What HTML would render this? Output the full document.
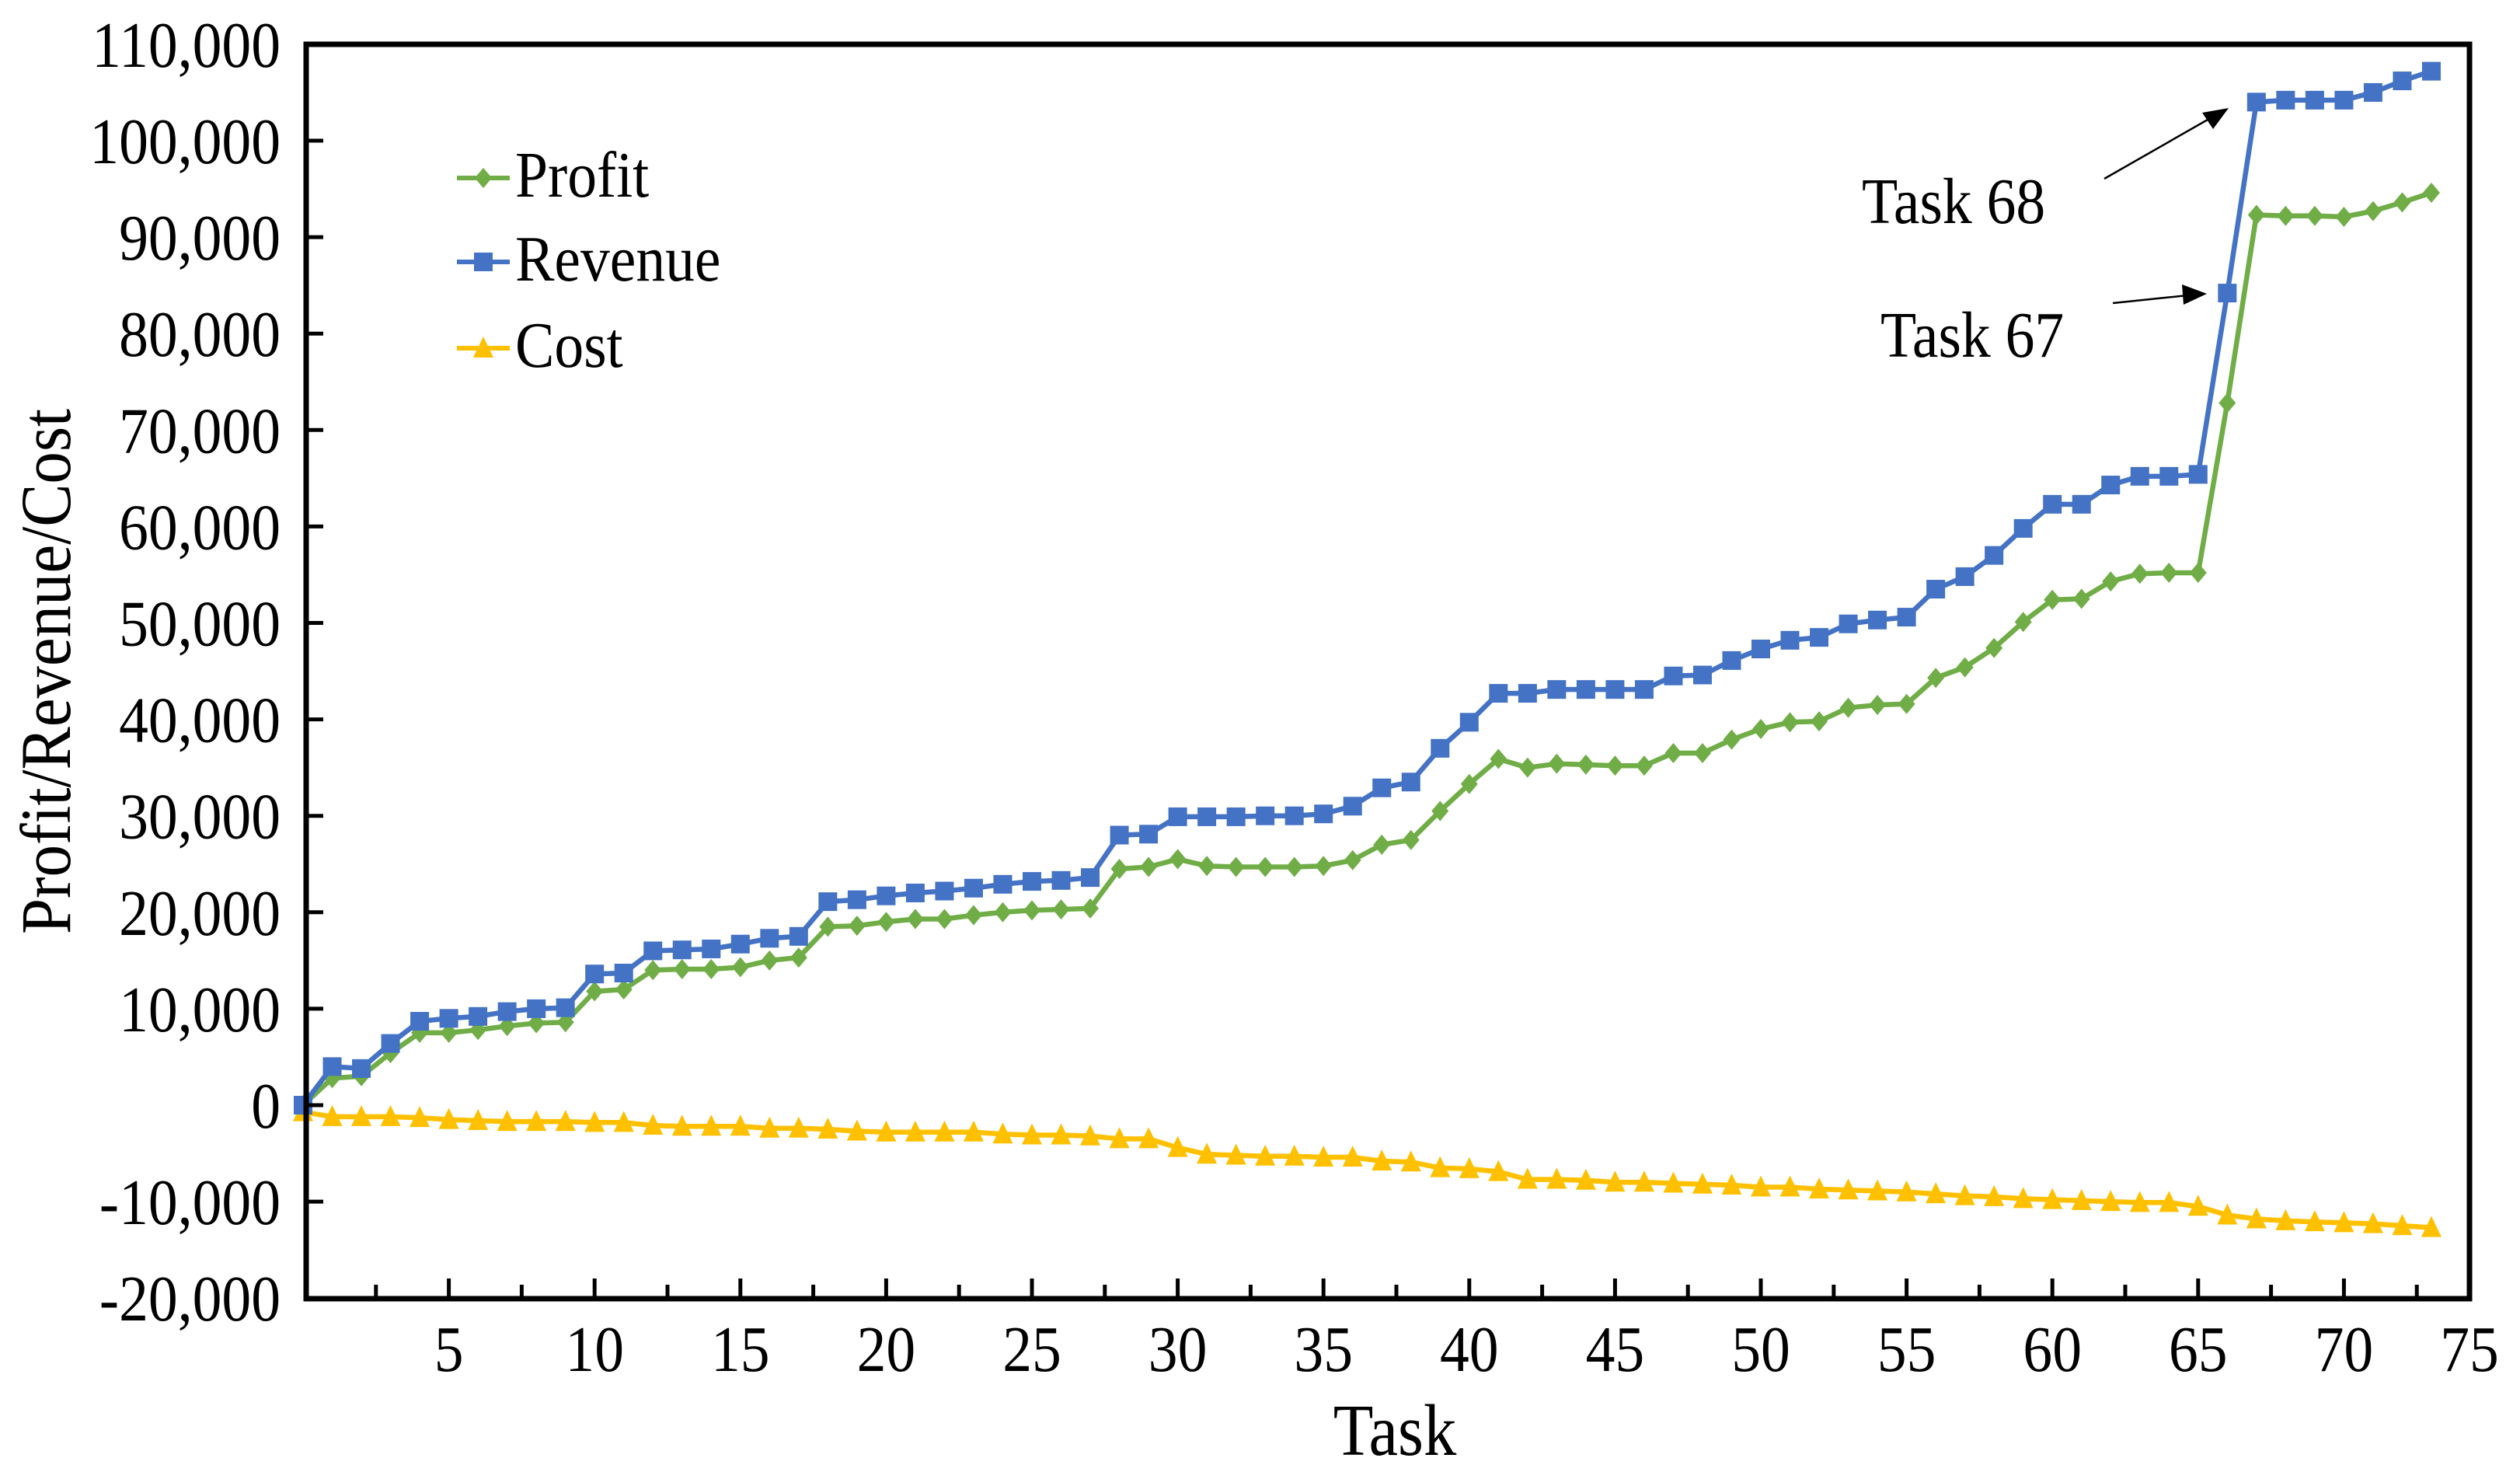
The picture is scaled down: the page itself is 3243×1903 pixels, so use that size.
<!DOCTYPE html>
<html><head><meta charset="utf-8"><style>
html,body{margin:0;padding:0;background:#fff;}
svg{display:block;font-family:"Liberation Serif",serif;}
</style></head><body>
<svg id="chart" width="3243" height="1903" viewBox="0 0 3243 1903" xmlns="http://www.w3.org/2000/svg">
<g id="grid"></g>
<g id="series"></g>
<g id="axes"></g>
<g>
 <g>
  <line x1="588" y1="229" x2="656" y2="229" stroke="#70AD47" stroke-width="6"/>
  <polygon points="622,216 633,229 622,242 611,229" fill="#70AD47"/>
  <text transform="translate(663,253) scale(0.9,1)" font-size="84">Profit</text>
 </g>
 <g>
  <line x1="588" y1="337" x2="656" y2="337" stroke="#4472C4" stroke-width="6"/>
  <rect x="610" y="325" width="24" height="24" fill="#4472C4"/>
  <text transform="translate(663,361) scale(0.9,1)" font-size="84">Revenue</text>
 </g>
 <g>
  <line x1="588" y1="448" x2="656" y2="448" stroke="#FFC000" stroke-width="6"/>
  <polygon points="622,433 635,460 609,460" fill="#FFC000"/>
  <text transform="translate(663,472) scale(0.9,1)" font-size="84">Cost</text>
 </g>
</g>
<g>
 <text transform="translate(2396,287) scale(0.9,1)" font-size="84">Task 68</text>
 <line x1="2708" y1="230" x2="2855" y2="146" stroke="#000" stroke-width="2.5"/>
 <polygon points="2868,139 2834,145 2848,166" fill="#000"/>
</g>
<g>
 <text transform="translate(2420,459) scale(0.9,1)" font-size="84">Task 67</text>
 <line x1="2719" y1="390" x2="2825" y2="379" stroke="#000" stroke-width="2.5"/>
 <polygon points="2840,378 2808,366 2810,392" fill="#000"/>
</g>
<text transform="translate(90,864) rotate(-90) scale(0.9,1)" text-anchor="middle" font-size="92">Profit/Revenue/Cost</text>
<text transform="translate(1795,1872) scale(0.9,1)" text-anchor="middle" font-size="94">Task</text>
</svg>
<script>
const tasks = [];
for (let i = 0; i <= 73; i++) tasks.push(i);
const revenue = [0,4000,3800,6400,8700,9000,9200,9700,10000,10100,13600,13700,16000,16100,16200,16700,17300,17500,21100,21300,21700,22000,22200,22500,22900,23200,23300,23600,28000,28100,29900,29900,29900,30000,30000,30200,31000,32900,33500,37000,39700,42700,42700,43100,43100,43100,43100,44500,44600,46100,47300,48200,48500,49900,50300,50600,53500,54800,57000,59800,62300,62300,64300,65200,65200,65400,84200,104000,104200,104200,104200,105000,106200,107200];
const profit = [0,2800,3000,5400,7500,7500,7800,8200,8500,8600,11800,12000,14000,14100,14100,14300,15000,15300,18500,18600,19000,19300,19300,19700,20000,20200,20300,20400,24500,24700,25500,24800,24700,24700,24700,24800,25400,27000,27500,30500,33300,35900,35000,35400,35300,35200,35200,36500,36500,37900,39000,39700,39800,41200,41500,41600,44300,45400,47400,50100,52400,52500,54300,55100,55200,55200,72800,92300,92200,92200,92100,92700,93600,94600];
const cost = [-700,-1200,-1200,-1200,-1300,-1500,-1600,-1700,-1700,-1700,-1800,-1800,-2100,-2200,-2200,-2200,-2400,-2400,-2500,-2700,-2800,-2800,-2800,-2800,-3000,-3100,-3100,-3200,-3500,-3500,-4400,-5100,-5200,-5300,-5300,-5400,-5400,-5800,-5900,-6500,-6600,-6900,-7700,-7700,-7800,-8000,-8000,-8100,-8200,-8300,-8500,-8500,-8700,-8800,-8900,-9000,-9200,-9400,-9500,-9700,-9800,-9900,-10000,-10100,-10100,-10500,-11400,-11800,-12000,-12100,-12200,-12300,-12500,-12700];
const yTicks = [110000,100000,90000,80000,70000,60000,50000,40000,30000,20000,10000,0,-10000,-20000];
const xTickLabels = [5,10,15,20,25,30,35,40,45,50,55,60,65,70,75];

const NS = "http://www.w3.org/2000/svg";
const X0 = 394, X1 = 3178, Y0 = 57, Y1 = 1671;
function xs(t){ return 390 + t * 37.52; }
function ys(v){ return 1422 - v * 0.01241; }
function mk(tag, attrs, parent){ const e = document.createElementNS(NS, tag); for (const k in attrs) e.setAttribute(k, attrs[k]); parent.appendChild(e); return e; }

const axes = document.getElementById('axes');
const series = document.getElementById('series');
const frame = mk('rect', {x:X0, y:Y0, width:X1-X0, height:Y1-Y0, fill:'none', stroke:'#000', 'stroke-width':7}, axes);



yTicks.forEach(v => {
  const y = ys(v);
  const tk = mk('line', {x1:X0, y1:y, x2:X0+22, y2:y, stroke:'#000', 'stroke-width':5}, axes);
  
  
  const lb = mk('text', {transform:`translate(361,${y+29}) scale(0.9,1)`, 'text-anchor':'end', 'font-size':84}, axes);
  lb.textContent = v.toLocaleString('en-US');
  
  
});
for (let t = 2.5; t < 74; t += 2.5) {
  const x = xs(t);
  const major = Math.abs(t % 5) < 0.01;
  const tk = mk('line', {x1:x, y1:Y1, x2:x, y2:Y1-(major?26:18), stroke:'#000', 'stroke-width':5}, axes);
  
  
}
xTickLabels.forEach(v => {
  const x = v === 75 ? X1 : xs(v);
  const lb = mk('text', {transform:`translate(${x},1764) scale(0.9,1)`, 'text-anchor':'middle', 'font-size':84}, axes);
  lb.textContent = String(v);
  
  
});

function drawSeries(vals, color, shape, name){
  const g = mk('g', {}, series);
  
  
  const pts = vals.map((v,i) => xs(tasks[i]).toFixed(1) + ',' + ys(v).toFixed(1)).join(' ');
  const pl = mk('polyline', {points:pts, fill:'none', stroke:color, 'stroke-width':6.5, 'stroke-linejoin':'round'}, g);
  
  
  vals.forEach((v,i) => {
    const x = xs(tasks[i]), y = ys(v);
    let m;
    if (shape === 'square') m = mk('rect', {x:x-12, y:y-12, width:24, height:24, fill:color}, g);
    else if (shape === 'diamond') m = mk('polygon', {points:`${x},${y-13} ${x+11},${y} ${x},${y+13} ${x-11},${y}`, fill:color}, g);
    else m = mk('polygon', {points:`${x},${y-15} ${x+13},${y+12} ${x-13},${y+12}`, fill:color}, g);
    
    
  });
}
drawSeries(cost, '#FFC000', 'triangle', 'cost');
drawSeries(profit, '#70AD47', 'diamond', 'profit');
drawSeries(revenue, '#4472C4', 'square', 'revenue');
</script>
</body></html>
